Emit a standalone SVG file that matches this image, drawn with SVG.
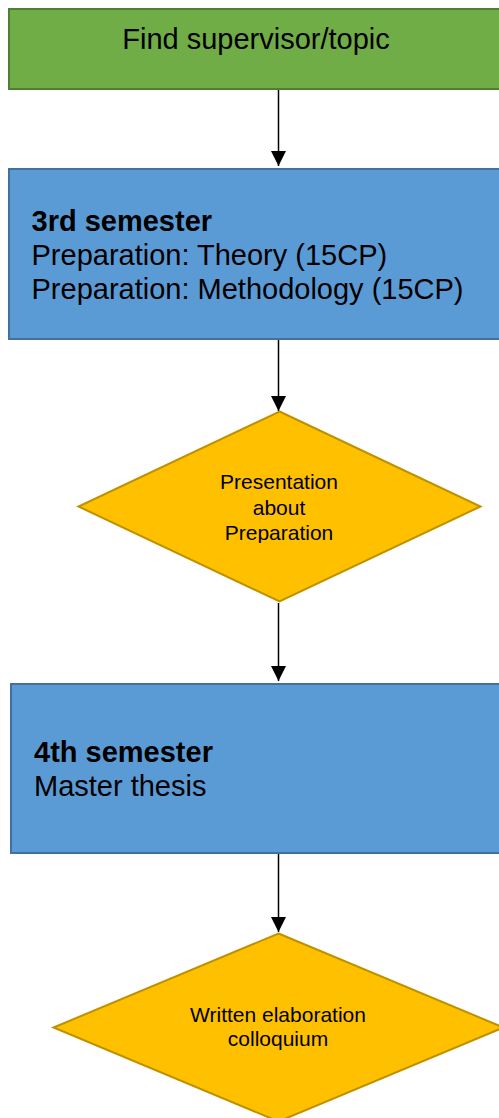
<svg xmlns="http://www.w3.org/2000/svg" width="499" height="1118" viewBox="0 0 499 1118">
<style>
.green{fill:#70AD47;stroke:#507E32;stroke-width:2}
.blue{fill:#5B9BD5;stroke:#41719C;stroke-width:2}
.gold{fill:#FFC000;stroke:#BF9000;stroke-width:2}
.t{font-family:"Liberation Sans",Arial,sans-serif;fill:#000}
.big{font-size:29px}
.small{font-size:21px}
.b{font-weight:bold}
.conn{stroke:#000;stroke-width:1.5;fill:none}
</style>
<defs>
<marker id="ah" markerUnits="userSpaceOnUse" markerWidth="16" markerHeight="16" refX="15" refY="7.5" orient="auto">
<path d="M0,0 L15,7.5 L0,15 Z" fill="#000"/>
</marker>
<clipPath id="clip1"><rect x="150" y="460" width="260" height="83"/></clipPath>
</defs>
<rect width="499" height="1118" fill="#fff"/>
<g id="connectors">
<line class="conn" x1="278.5" y1="90" x2="278.5" y2="166" marker-end="url(#ah)"/>
<line class="conn" x1="278.5" y1="340" x2="278.5" y2="411" marker-end="url(#ah)"/>
<line class="conn" x1="278.5" y1="603" x2="278.5" y2="681" marker-end="url(#ah)"/>
<line class="conn" x1="278.5" y1="854" x2="278.5" y2="932" marker-end="url(#ah)"/>
</g>
<g id="n1">
<rect class="green" x="9" y="9" width="510" height="80"/>
<text class="t big" x="256" y="49" text-anchor="middle">Find supervisor/topic</text>
</g>
<g id="n2">
<rect class="blue" x="9" y="169" width="510" height="170"/>
<text class="t big b" x="31.5" y="231">3rd semester</text>
<text class="t big" x="31.5" y="265">Preparation: Theory (15CP)</text>
<text class="t big" x="31.5" y="299">Preparation: Methodology (15CP)</text>
</g>
<g id="n3">
<polygon class="gold" points="279.5,411.5 480.5,506.5 279.5,601.5 78.5,506.5"/>
<g clip-path="url(#clip1)">
<text class="t small" x="279" y="489" text-anchor="middle">Presentation</text>
<text class="t small" x="279" y="515" text-anchor="middle">about</text>
<text class="t small" x="279" y="540" text-anchor="middle">Preparation</text>
</g>
</g>
<g id="n4">
<rect class="blue" x="11" y="684" width="510" height="169"/>
<text class="t big b" x="34" y="762">4th semester</text>
<text class="t big" x="34" y="796">Master thesis</text>
</g>
<g id="n5">
<polygon class="gold" points="278.5,933.5 503.5,1027.5 278.5,1121.5 53.5,1027.5"/>
<text class="t small" x="278" y="1022" text-anchor="middle">Written elaboration</text>
<text class="t small" x="278" y="1046" text-anchor="middle">colloquium</text>
</g>
</svg>
